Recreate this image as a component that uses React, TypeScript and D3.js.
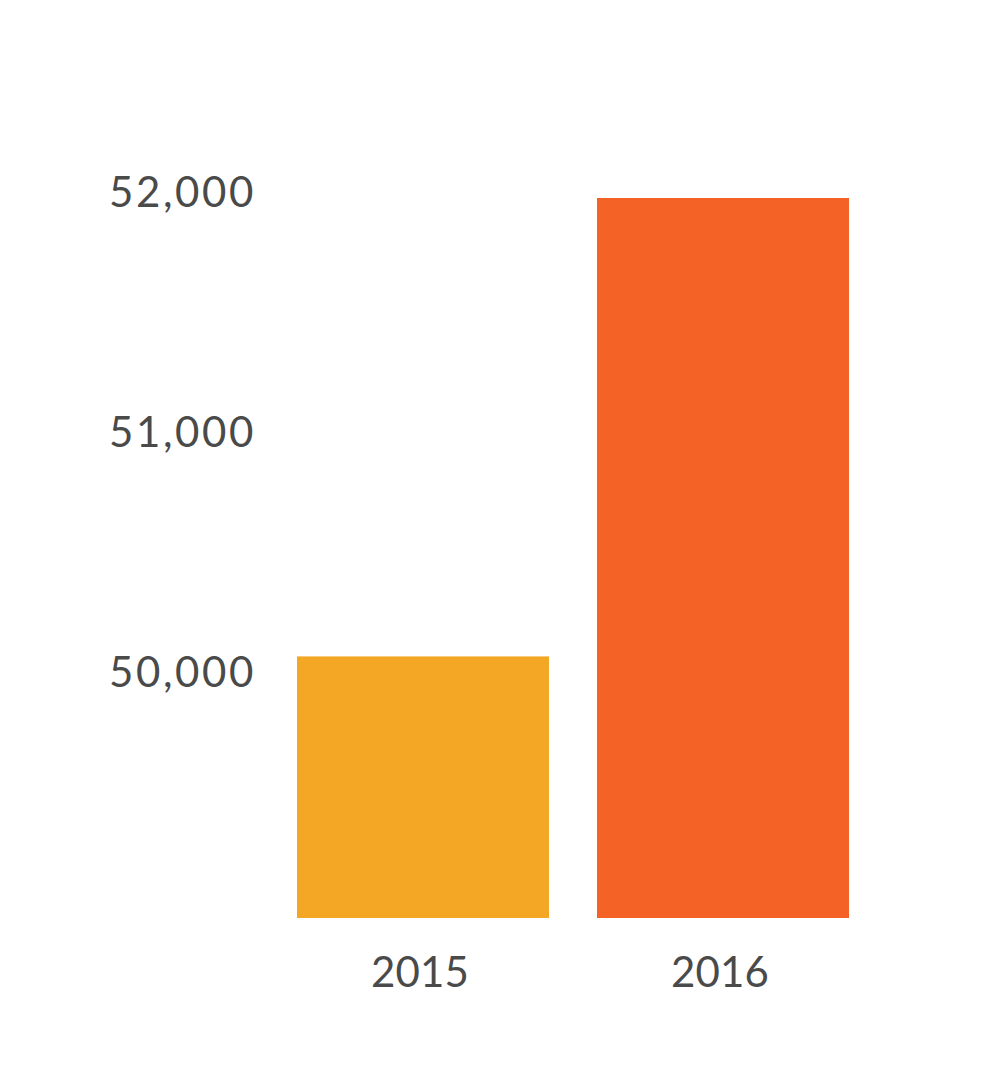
import React from "react";
import * as d3 from "d3";

const categories = ["2015", "2016"];
const values = [50090, 52000];
const colors = ["#F4A724", "#F46325"];
const yTicks = [50000, 51000, 52000];

export default function App() {
  const width = 1008;
  const height = 1068;
  const x = d3.scaleBand<string>().domain(categories).range([273, 873]).paddingInner(0.16).paddingOuter(0.08);
  const y = d3.scaleLinear().domain([49000, 52000]).range([918, 198]);
  const fmt = d3.format(",");
  const font = "Lato, 'Open Sans', sans-serif";
  return (
    <svg width={width} height={height} style={{ position: "absolute", left: 0, top: 0 }}>
      <rect width={width} height={height} fill="#ffffff" />
      {categories.map((c, i) => (
        <rect key={c} x={x(c)} y={y(values[i])} width={x.bandwidth()} height={y(49000) - y(values[i])} fill={colors[i]} />
      ))}
      {yTicks.map((t) => (
        <text key={t} x={256} y={y(t) + 9} textAnchor="end" fontFamily={font} fontSize={42} fill="#4a4a4a" letterSpacing={2.6}>
          {fmt(t)}
        </text>
      ))}
      {categories.map((c) => (
        <text key={c} x={(x(c) as number) + x.bandwidth() / 2 - 3} y={987} textAnchor="middle" fontFamily={font} fontSize={42} fill="#4a4a4a" letterSpacing={0.2}>
          {c}
        </text>
      ))}
    </svg>
  );
}
